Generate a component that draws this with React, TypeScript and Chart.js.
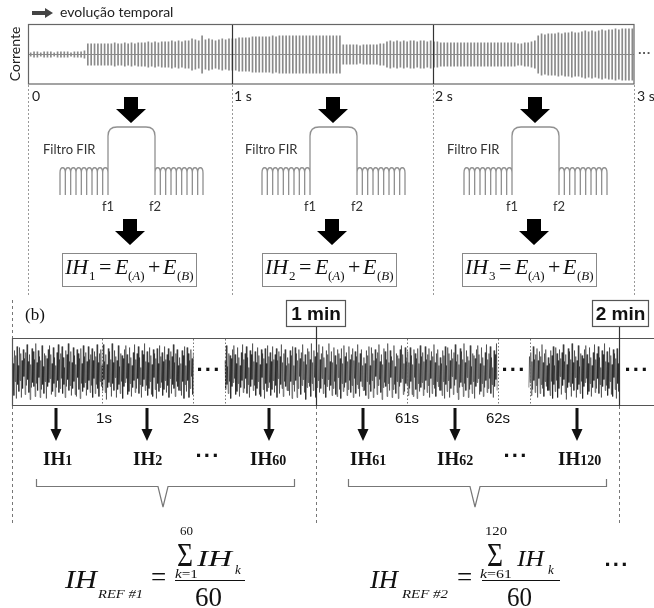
import React, { useEffect, useRef } from 'react';
import { Chart, registerables } from 'chart.js';

Chart.register(...registerables);

// ---- data ----
// amplitude of each 60 Hz cycle of the current signal, per second
const AMP_S1 = [2, 3, 3, 2, 3, 3, 3, 2, 3, 3, 3, 3, 2, 3, 3, 3, 4,
  11, 11, 11, 11, 11, 11, 11, 11, 12, 11, 11, 12, 11, 12, 11, 12, 12, 12, 13, 12, 13, 12, 13, 13, 13, 14, 13, 14, 13, 14, 14, 16, 15, 14, 19, 15, 16, 15, 14, 15, 16, 15, 16];
const AMP_S2 = [16, 16, 17, 17, 17, 17, 18, 18, 18, 18, 18, 18, 19, 18, 19, 19, 19, 19, 19, 19, 19, 19, 19, 19, 19, 19, 19, 19, 19, 19, 19, 19, 19,
  10, 10, 10, 10, 10, 9, 10, 10, 10, 10, 10, 11, 11,
  13, 14, 13, 14, 13, 14, 13, 14, 14, 13, 14, 14, 13, 14];
const AMP_S3 = [13, 13, 12, 12, 12, 12, 12, 12, 12, 12, 12, 12, 12, 12, 12, 12, 12, 12, 12, 12, 12, 12, 12, 12, 12, 11, 11, 12, 12, 13, 14,
  19, 21, 20, 21, 21, 21, 22, 21, 22, 22, 23, 22, 22, 23, 24, 23, 24, 23, 24, 25, 24, 25, 25, 26, 25, 26, 26, 26, 26];

// one second of the long noisy record (part b)
const NOISE = [
  14, -19, 8, -24, 21, -10, 16, -27, 25, -13, 6, -20, 24, -9, 18, -26, 11, -17, 22, -5,
  13, -23, 19, -14, 27, -8, 10, -21, 17, -28, 7, -16, 23, -11, 20, -15, 12, -25, 28, -12,
  9, -19, 21, -6, 15, -26, 11, -18, 26, -13, 5, -22, 18, -10, 16, -27, 13, -15, 22, -11,
  26, -7, 17, -23, 8, -20, 24, -12, 14, -25, 6, -16, 19, -9, 27, -21, 12, -17, 18, -7,
  25, -22, 14, -13, 4, -26, 21, -15, 17, -8, 28, -19, 10, -14, 20, -24, 9, -17, 24, -10,
  16, -23, 7, -25, 22, -6, 18, -18, 13, -27, 23, -12, 8, -20, 26, -16, 15, -11, 19, -24,
  10, -18, 25, -9, 12, -21, 17, -14, 23, -26, 11, -7, 20, -22, 15, -13, 27, -17, 9, -25,
  18, -10, 22, -15, 6, -19];

const TIME_TICKS = ['0', '1 s', '2 s', '3 s'];
const SECOND_LABELS = ['1s', '2s', '61s', '62s'];
const IH_LABELS = ['1', '2', '60', '61', '62', '120'];
const MINUTE_LABELS = ['1 min', '2 min'];

// ---- layout ----
const LATO = 'Lato, "Open Sans", sans-serif';
const ARIAL = '"Liberation Sans", Arial, sans-serif';
const TIMES = '"Liberation Serif", "Times New Roman", serif';
const SEG_STARTS = [0, 1, 2.35, 3.35, 4.35, 5.7];

function TopWave() {
  const ref = useRef<HTMLCanvasElement>(null);
  useEffect(() => {
    const amps = [...AMP_S1, ...AMP_S2, ...AMP_S3];
    const chart = new Chart(ref.current as HTMLCanvasElement, {
      type: 'bar',
      data: {
        labels: amps.map((_, i) => String(i)),
        datasets: [{
          data: amps.map((a) => [-a, a]) as any,
          backgroundColor: '#8a8a8a',
          borderWidth: 0,
          barPercentage: 0.5,
          categoryPercentage: 1,
        }],
      },
      options: {
        responsive: false,
        animation: false,
        events: [],
        layout: { padding: 0 },
        plugins: { legend: { display: false }, tooltip: { enabled: false } },
        scales: {
          x: { display: false },
          y: { display: false, min: -29.5, max: 29.5 },
        },
      },
    });
    return () => chart.destroy();
  }, []);
  return <canvas ref={ref} width={605} height={59}
    style={{ position: 'absolute', left: 29, top: 25, width: 605, height: 59 }} />;
}

function NoiseBand() {
  const ref = useRef<HTMLCanvasElement>(null);
  useEffect(() => {
    const n = NOISE.length;
    const chart = new Chart(ref.current as HTMLCanvasElement, {
      type: 'line',
      data: {
        datasets: SEG_STARTS.map((s, k) => ({
          data: NOISE.map((_, i) => ({ x: s + i / (n - 1), y: NOISE[(i + k * 23) % n] })),
          borderColor: 'rgba(10,10,10,0.48)',
          borderWidth: 1,
          pointRadius: 0,
          tension: 0,
          fill: false,
        })),
      },
      options: {
        responsive: false,
        animation: false,
        events: [],
        layout: { padding: 0 },
        plugins: { legend: { display: false }, tooltip: { enabled: false } },
        scales: {
          x: { type: 'linear', display: false, min: 0, max: 7.08 },
          y: { display: false, min: -33.5, max: 33.5 },
        },
      },
    });
    return () => chart.destroy();
  }, []);
  return <canvas ref={ref} width={642} height={67}
    style={{ position: 'absolute', left: 12, top: 338, width: 642, height: 67 }} />;
}

function filterPath(dx: number) {
  const base = 195;
  const top = 168;
  const w = 48 / 9;
  let d = `M ${60 + dx} ${base}`;
  const arches = (x0: number) => {
    for (let i = 0; i < 9; i++) {
      const x = x0 + i * w;
      d += ` L ${x} ${top + 5} C ${x} ${top - 2} ${x + w} ${top - 2} ${x + w} ${top + 5} L ${x + w} ${base}`;
    }
  };
  arches(60 + dx);
  d += ` L ${108 + dx} 136 Q ${108 + dx} 127 ${117 + dx} 127 L ${146 + dx} 127 Q ${155 + dx} 127 ${155 + dx} 136 L ${155 + dx} ${base}`;
  arches(155 + dx);
  return d;
}

function bigArrow(cx: number, ty: number) {
  return `${cx - 7},${ty} ${cx + 7},${ty} ${cx + 7},${ty + 12} ${cx + 15},${ty + 12} ${cx},${ty + 26} ${cx - 15},${ty + 12} ${cx - 7},${ty + 12}`;
}

function thinArrow(cx: number) {
  return `${cx - 1.5},408 ${cx + 1.5},408 ${cx + 1.5},429 ${cx + 5.5},429 ${cx},441 ${cx - 5.5},429 ${cx - 1.5},429`;
}

function Overlay() {
  const segDx = [0, 202, 404];
  const boxDx = [0, 200, 400];
  const tickX = [32, 234, 435, 637];
  const secX = [104, 191, 407, 498];
  const ihX = [43, 133, 250, 350, 437, 558];
  const thinX = [56, 147, 269, 363, 455, 577];
  const dotted = [102.5, 193.5, 225.5, 407.5, 498.5, 530.5];
  const stretch = 'spacingAndGlyphs';
  return (
    <svg width={654} height={608} style={{ position: 'absolute', left: 0, top: 0 }}>
      {/* header */}
      <polygon points="32,11 45,11 45,8 53,13 45,18 45,15 32,15" fill="#444" />
      <text x={60} y={17} fontFamily={LATO} fontSize={14} fill="#222">evolução temporal</text>
      <text transform="translate(19.5,54) rotate(-90)" textAnchor="middle" fontFamily={LATO} fontSize={14} fill="#222">Corrente</text>

      {/* top box */}
      <line x1={29} x2={634} y1={54.5} y2={54.5} stroke="#8a8a8a" strokeWidth={1} />
      <rect x={28.5} y={24.5} width={605.5} height={59.5} fill="none" stroke="#666" strokeWidth={1.2} />
      <line x1={232.5} x2={232.5} y1={25} y2={84} stroke="#333" strokeWidth={1.2} />
      <line x1={433.5} x2={433.5} y1={25} y2={84} stroke="#333" strokeWidth={1.2} />
      <text x={638} y={57} fontFamily={ARIAL} fontWeight="bold" fontSize={13} fill="#555">···</text>
      {[28.5, 232.5, 433.5, 634.5].map((x) => (
        <line key={x} x1={x} x2={x} y1={85} y2={296} stroke="#999" strokeWidth={1} strokeDasharray="2 2" />
      ))}
      {TIME_TICKS.map((t, i) => (
        <text key={t} x={tickX[i]} y={101} fontFamily={LATO} fontSize={14} fill="#222">{t}</text>
      ))}

      {/* filters */}
      {segDx.map((dx, i) => (
        <g key={i}>
          <polygon points={bigArrow(131 + dx, 97)} fill="#000" />
          <path d={filterPath(dx)} fill="none" stroke="#909090" strokeWidth={1.3} />
          <text x={43 + dx} y={154} fontFamily={LATO} fontSize={13} fill="#333">Filtro FIR</text>
          <text x={108 + dx} y={211} textAnchor="middle" fontFamily={LATO} fontSize={13} fill="#333">f1</text>
          <text x={155 + dx} y={211} textAnchor="middle" fontFamily={LATO} fontSize={13} fill="#333">f2</text>
          <polygon points={bigArrow(130 + dx, 219)} fill="#000" />
        </g>
      ))}
      {boxDx.map((dx, i) => (
        <g key={i} fontFamily={TIMES} fill="#111">
          <rect x={62.5 + dx} y={253.5} width={134} height={33} fill="none" stroke="#888" strokeWidth={1} />
          <text x={65 + dx} y={274} fontStyle="italic" fontSize={22}>IH</text>
          <text x={89 + dx} y={280} fontSize={13}>{i + 1}</text>
          <text x={99 + dx} y={274} fontSize={22}>=</text>
          <text x={115 + dx} y={274} fontStyle="italic" fontSize={22}>E</text>
          <text x={128 + dx} y={280} fontSize={13}>(<tspan fontStyle="italic">A</tspan>)</text>
          <text x={148 + dx} y={274} fontSize={22}>+</text>
          <text x={163 + dx} y={274} fontStyle="italic" fontSize={22}>E</text>
          <text x={177 + dx} y={280} fontSize={13}>(<tspan fontStyle="italic">B</tspan>)</text>
        </g>
      ))}

      {/* part b */}
      <text x={25} y={320} fontFamily={TIMES} fontSize={17} fill="#111">(b)</text>
      <rect x={286.5} y={300.5} width={59} height={26} fill="#fff" stroke="#555" strokeWidth={1.2} />
      <text x={316} y={320} textAnchor="middle" fontFamily={ARIAL} fontWeight="bold" fontSize={19} fill="#111">{MINUTE_LABELS[0]}</text>
      <rect x={592.5} y={300.5} width={56} height={26} fill="#fff" stroke="#555" strokeWidth={1.2} />
      <text x={620.5} y={320} textAnchor="middle" fontFamily={ARIAL} fontWeight="bold" fontSize={19} fill="#111">{MINUTE_LABELS[1]}</text>

      <line x1={12.5} x2={12.5} y1={300} y2={338} stroke="#777" strokeWidth={1} strokeDasharray="3 3" />
      <line x1={12} x2={654} y1={338.5} y2={338.5} stroke="#555" strokeWidth={1.2} />
      <line x1={12} x2={654} y1={405.5} y2={405.5} stroke="#555" strokeWidth={1.2} />
      <line x1={12.5} x2={12.5} y1={338} y2={406} stroke="#555" strokeWidth={1.2} />
      <line x1={316.5} x2={316.5} y1={327} y2={406} stroke="#333" strokeWidth={1.2} />
      <line x1={619.5} x2={619.5} y1={327} y2={406} stroke="#333" strokeWidth={1.2} />
      {dotted.map((x) => (
        <line key={x} x1={x} x2={x} y1={339} y2={405} stroke="#777" strokeWidth={1} strokeDasharray="1.5 2" />
      ))}
      {[209, 514, 637].map((x) => (
        <text key={x} x={x} y={377} textAnchor="middle" fontFamily={ARIAL} fontWeight="bold" fontSize={22} fill="#111" letterSpacing={1}>···</text>
      ))}
      {[12.5, 316.5, 619.5].map((x) => (
        <line key={x} x1={x} x2={x} y1={406} y2={525} stroke="#777" strokeWidth={1} strokeDasharray="3 3" />
      ))}

      {thinX.map((x) => <polygon key={x} points={thinArrow(x)} fill="#111" />)}
      {SECOND_LABELS.map((t, i) => (
        <text key={t} x={secX[i]} y={423} textAnchor="middle" fontFamily={ARIAL} fontSize={15} fill="#111">{t}</text>
      ))}
      {IH_LABELS.map((n, i) => (
        <text key={n} x={ihX[i]} y={465} fontFamily={TIMES} fontWeight="bold" fontSize={19} fill="#111">IH<tspan fontSize={14}>{n}</tspan></text>
      ))}
      {[208, 516].map((x) => (
        <text key={x} x={x} y={463} textAnchor="middle" fontFamily={ARIAL} fontWeight="bold" fontSize={22} fill="#111" letterSpacing={1}>···</text>
      ))}
      <path d="M 36.5 479 L 36.5 486.5 L 158 486.5 L 163 507 L 168 486.5 L 294.5 486.5 L 294.5 479" fill="none" stroke="#777" strokeWidth={1.2} />
      <path d="M 348.5 479 L 348.5 486.5 L 470 486.5 L 475 507 L 480 486.5 L 606.5 486.5 L 606.5 479" fill="none" stroke="#777" strokeWidth={1.2} />

      {/* reference formulas */}
      <g fontFamily={TIMES} fill="#111">
        <text x={65} y={588} fontStyle="italic" fontSize={26} textLength={32} lengthAdjust={stretch}>IH</text>
        <text x={98} y={598} fontStyle="italic" fontSize={12} textLength={45} lengthAdjust={stretch}>REF #1</text>
        <text x={151} y={586} fontSize={27}>=</text>
        <text x={180} y={535} fontSize={13}>60</text>
        <text x={177} y={566} fontSize={33} textLength={16} lengthAdjust={stretch}>Σ</text>
        <text x={197} y={566} fontStyle="italic" fontSize={24} textLength={35} lengthAdjust={stretch}>IH</text>
        <text x={235} y={574} fontStyle="italic" fontSize={13}>k</text>
        <text x={175} y={578} fontSize={13} textLength={23} lengthAdjust={stretch}><tspan fontStyle="italic">k</tspan>=1</text>
        <line x1={175} x2={245} y1={580.5} y2={580.5} stroke="#111" strokeWidth={1} />
        <text x={195} y={606} fontSize={28} textLength={27} lengthAdjust={stretch}>60</text>

        <text x={370} y={588} fontStyle="italic" fontSize={26} textLength={28} lengthAdjust={stretch}>IH</text>
        <text x={402} y={598} fontStyle="italic" fontSize={12} textLength={46} lengthAdjust={stretch}>REF #2</text>
        <text x={457} y={586} fontSize={27}>=</text>
        <text x={485} y={535} fontSize={13} textLength={22} lengthAdjust={stretch}>120</text>
        <text x={487} y={566} fontSize={33} textLength={16} lengthAdjust={stretch}>Σ</text>
        <text x={517} y={566} fontStyle="italic" fontSize={24} textLength={27} lengthAdjust={stretch}>IH</text>
        <text x={548} y={574} fontStyle="italic" fontSize={13}>k</text>
        <text x={480} y={578} fontSize={13} textLength={32} lengthAdjust={stretch}><tspan fontStyle="italic">k</tspan>=61</text>
        <line x1={482} x2={560} y1={580.5} y2={580.5} stroke="#111" strokeWidth={1} />
        <text x={507} y={606} fontSize={28} textLength={25} lengthAdjust={stretch}>60</text>
      </g>
      <text x={617} y={572} textAnchor="middle" fontFamily={ARIAL} fontWeight="bold" fontSize={22} fill="#111" letterSpacing={1}>···</text>
    </svg>
  );
}

export default function App() {
  return (
    <div style={{ position: 'absolute', left: 0, top: 0, width: 654, height: 608, background: '#fff', overflow: 'hidden' }}>
      <TopWave />
      <NoiseBand />
      <Overlay />
    </div>
  );
}
